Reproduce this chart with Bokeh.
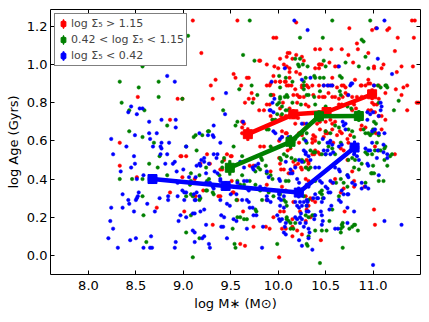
from bokeh.plotting import figure
from bokeh.models import (Range1d, FixedTicker, NumeralTickFormatter, LinearAxis,
                          Legend, LegendItem, ColumnDataSource)
from bokeh.embed import file_html
from bokeh.resources import INLINE

FONT = "DejaVu Sans"

# ---------------- data ----------------
x_ticks = [8.0, 8.5, 9.0, 9.5, 10.0, 10.5, 11.0]
y_ticks = [0.0, 0.2, 0.4, 0.6, 0.8, 1.0, 1.2]

labels = ["log \u03a3\u2085 > 1.15", "0.42 < log \u03a3\u2085 < 1.15", "log \u03a3\u2085 < 0.42"]

# binned means
red_bin_x = [9.68, 10.16, 10.51, 10.99]
red_bin_y = [0.635, 0.739, 0.751, 0.844]
red_bin_yerr = [0.035, 0.025, 0.025, 0.03]
red_bin_xerr = [0.05, 0.05, 0.04, 0.05]

green_bin_x = [9.49, 10.13, 10.43, 10.85]
green_bin_y = [0.459, 0.595, 0.729, 0.730]
green_bin_yerr = [0.04, 0.035, 0.03, 0.03]
green_bin_xerr = [0.05, 0.05, 0.04, 0.05]

blue_bin_x = [8.675, 9.446, 10.217, 10.805]
blue_bin_y = [0.400, 0.364, 0.329, 0.565]
blue_bin_yerr = [0.025, 0.025, 0.03, 0.035]
blue_bin_xerr = [0.05, 0.05, 0.05, 0.05]

red_pts = [
    (8.52, 0.83), (8.94, 0.82), (8.86, 0.71), (8.33, 0.59), (8.97, 0.52), (8.33, 0.47), (8.51, 0.41),
    (8.86, 0.33), (8.72, 0.25), (8.99, 0.82),
    (9.10, 1.23), (9.57, 1.23), (10.19, 1.22), (9.95, 1.14), (9.98, 1.14), (9.19, 1.06), (10.10, 1.06),
    (10.12, 1.06), (10.02, 1.03), (10.09, 1.04), (10.19, 1.05), (10.15, 1.03), (10.27, 1.02), (9.80, 1.02),
    (9.81, 1.02), (9.88, 1.00), (9.96, 0.99), (10.00, 0.98), (10.06, 1.00), (10.09, 0.99), (10.12, 0.98),
    (10.12, 0.96), (10.19, 0.96), (10.23, 0.95), (9.53, 0.95), (9.55, 0.93), (9.67, 0.93), (9.69, 0.93),
    (9.34, 0.92), (9.95, 0.94), (10.12, 0.93), (10.02, 0.91), (10.07, 0.91), (10.14, 0.89), (9.61, 0.89),
    (9.29, 0.89), (9.88, 0.89), (9.91, 0.89), (10.09, 0.89), (10.18, 0.87), (9.72, 0.85), (10.20, 0.84),
    (10.22, 0.83), (9.31, 0.82), (9.69, 0.82), (9.74, 0.82), (9.65, 0.80), (10.05, 0.80), (10.20, 0.80),
    (10.02, 0.77), (10.12, 0.77), (9.80, 0.76), (9.85, 0.76), (9.92, 0.73), (9.94, 0.71), (9.62, 0.70),
    (10.21, 0.72), (10.18, 0.69),
    (11.41, 1.23), (11.44, 1.23), (10.75, 1.19), (10.99, 1.18), (11.03, 1.19), (11.15, 1.18), (11.17, 1.19),
    (11.26, 1.14), (11.43, 1.14), (10.83, 1.11), (10.39, 1.08), (10.44, 1.08), (10.56, 1.08), (10.67, 1.08),
    (10.84, 1.08), (10.95, 1.06), (11.23, 1.07), (10.74, 1.05), (10.25, 1.04), (10.43, 1.00), (10.44, 1.00),
    (10.46, 1.00), (10.54, 1.01), (10.60, 0.99), (10.63, 0.99), (10.79, 1.01), (11.01, 0.99), (11.01, 0.98),
    (11.09, 0.98), (11.11, 1.00), (11.30, 0.99), (11.25, 0.96), (11.42, 0.99), (10.39, 0.98), (10.43, 0.98),
    (10.57, 0.93), (10.81, 0.92), (10.87, 0.89), (10.95, 0.92), (10.97, 0.90), (11.24, 0.87), (11.32, 0.88),
    (11.36, 0.89), (10.25, 0.88), (10.30, 0.89), (10.32, 0.88), (10.62, 0.88), (10.69, 0.89), (10.71, 0.85),
    (10.73, 0.84), (10.37, 0.84), (10.53, 0.85), (11.13, 0.85), (11.30, 0.84), (11.46, 0.80), (11.48, 0.80),
    (11.36, 0.76), (11.04, 0.79), (11.01, 0.79), (10.99, 0.80), (11.09, 0.73), (10.78, 0.80), (10.80, 0.79),
    (10.87, 0.66), (10.44, 0.66), (10.65, 0.65), (10.27, 0.69), (10.60, 0.70),
    (10.37, 0.63), (10.39, 0.62), (10.50, 0.64), (10.52, 0.64), (10.62, 0.63), (10.67, 0.64), (10.76, 0.63),
    (11.03, 0.64), (10.36, 0.59), (10.58, 0.59), (10.73, 0.61), (10.74, 0.59), (11.02, 0.57), (11.23, 0.53),
    (10.36, 0.53), (10.38, 0.53), (10.66, 0.56), (10.69, 0.55), (10.73, 0.50), (10.78, 0.44), (10.80, 0.39),
    (10.57, 0.38), (10.91, 0.36), (10.80, 0.36), (10.66, 0.33), (10.69, 0.35), (10.29, 0.31), (10.70, 0.23),
    (11.01, 0.24), (10.34, 0.20), (11.02, 0.16), (10.25, 0.11), (10.45, 0.08), (10.29, 0.18),
    (9.62, 0.64), (9.81, 0.57), (9.85, 0.57), (10.04, 0.62), (10.09, 0.64), (10.22, 0.59), (9.94, 0.56),
    (8.98, 0.52), (9.03, 0.52), (9.25, 0.53), (9.51, 0.52), (10.01, 0.51), (10.02, 0.48), (10.16, 0.49),
    (10.21, 0.48), (10.18, 0.47), (10.32, 0.48), (10.30, 0.46), (9.28, 0.48), (9.39, 0.45), (9.41, 0.45),
    (9.92, 0.44), (10.11, 0.43), (10.15, 0.44), (8.99, 0.41), (9.37, 0.31), (9.57, 0.29), (9.88, 0.29),
    (10.02, 0.23), (10.06, 0.23), (10.23, 0.23), (9.01, 0.23), (9.63, 0.23), (9.95, 0.20), (10.04, 0.14),
    (10.08, 0.14), (10.15, 0.19), (10.15, 0.15), (10.20, 0.13), (10.32, 0.26), (10.30, 0.24), (10.15, 0.10),
    (9.31, 0.16), (9.60, 0.06), (9.65, 0.05), (10.01, -0.01), (9.87, 0.15), (9.91, 0.14), (9.74, 0.15),
    (9.62, 0.67), (9.64, 0.69), (9.18, 0.48), (9.46, 0.53), (9.50, 0.52), (9.43, 0.50), (9.70, 0.47),
    (9.74, 0.47), (9.12, 0.40), (9.21, 0.34), (9.51, 0.39), (9.52, 0.33), (9.13, 0.31), (9.88, 0.37),
    (9.39, 0.31), (9.53, 0.33),
    (9.92, 0.90), (9.97, 0.91), (10.02, 0.91), (10.08, 0.91), (10.11, 0.89), (10.25, 0.89), (10.30, 0.89),
    (10.36, 0.89), (10.43, 0.89), (10.48, 0.89), (10.53, 0.89), (10.57, 0.89), (10.67, 0.89), (10.71, 0.88),
    (10.88, 0.89), (10.92, 0.89), (10.95, 0.90), (11.01, 0.89), (11.06, 0.89), (9.93, 0.84), (9.95, 0.84),
    (10.16, 0.84), (10.23, 0.83), (10.27, 0.83), (10.43, 0.83), (10.47, 0.83), (10.49, 0.83), (10.57, 0.83),
    (10.60, 0.83), (10.64, 0.82), (10.68, 0.83), (10.78, 0.83), (10.83, 0.83), (10.88, 0.83), (11.06, 0.82),
    (9.88, 0.79), (9.91, 0.79), (10.29, 0.79), (10.32, 0.78), (10.64, 0.79), (10.67, 0.79), (10.78, 0.76),
    (10.82, 0.77), (10.95, 0.76), (10.98, 0.76), (11.02, 0.75), (11.06, 0.73), (11.13, 0.71), (10.37, 0.70),
    (10.41, 0.69), (10.44, 0.70), (10.50, 0.70), (10.55, 0.71), (10.57, 0.69), (10.57, 0.66), (10.88, 0.68),
    (10.92, 0.67), (11.09, 0.66), (10.03, 0.73), (10.08, 0.73), (10.04, 0.65), (10.08, 0.64), (10.22, 0.64),
    (10.25, 0.63), (10.36, 0.61), (10.39, 0.60), (10.50, 0.65), (10.48, 0.62), (10.39, 0.55), (10.42, 0.54),
    (10.44, 0.53), (10.10, 0.55), (10.13, 0.56), (10.01, 0.60), (10.30, 0.50), (10.32, 0.49), (10.24, 0.46),
    (10.25, 0.45), (10.03, 0.45), (10.06, 0.45), (10.29, 0.40), (10.32, 0.39), (10.60, 0.40), (10.04, 0.36),
    (10.08, 0.34), (10.34, 0.30), (10.36, 0.29), (10.16, 0.28), (10.39, 0.28),
]

green_pts = [
    (8.33, 0.91), (8.53, 0.88), (8.74, 0.91), (8.74, 0.83), (8.35, 0.80), (8.43, 0.76), (8.59, 0.76),
    (8.83, 0.68), (8.43, 0.65), (8.57, 0.99), (8.57, 0.62), (8.69, 0.59), (8.75, 0.52), (8.64, 0.48),
    (8.73, 0.46), (8.83, 0.42), (8.33, 0.40), (8.46, 0.40), (8.57, 0.40), (8.57, 0.31), (8.58, 0.21),
    (8.61, 0.07),
    (9.70, 1.23), (9.05, 1.15), (10.23, 1.14), (9.63, 1.05), (10.18, 1.03), (10.23, 1.03), (9.75, 1.02),
    (10.21, 1.00), (10.22, 0.99), (10.31, 0.99), (10.26, 1.00), (10.01, 0.94), (10.08, 0.93), (10.15, 0.91),
    (10.27, 0.91), (10.27, 0.89), (10.27, 0.87), (9.72, 0.89), (10.02, 0.88), (9.59, 0.87), (9.78, 0.84),
    (9.92, 0.84), (10.09, 0.84), (8.99, 0.82), (10.02, 0.82), (9.73, 0.80), (10.15, 0.80), (10.24, 0.79),
    (9.42, 0.76), (9.99, 0.74), (10.04, 0.74), (9.57, 0.70), (9.55, 0.68), (9.26, 0.65),
    (10.57, 1.23), (10.97, 1.23), (10.47, 1.14), (10.88, 1.13), (10.90, 1.12), (10.92, 1.04), (10.48, 1.02),
    (10.50, 0.99), (10.71, 1.01), (10.85, 0.99), (10.95, 0.98), (10.29, 0.93), (10.38, 0.94), (10.39, 0.93),
    (10.44, 0.93), (10.48, 0.93), (10.65, 0.94), (10.67, 0.93), (11.05, 0.89), (11.08, 0.88), (11.14, 0.89),
    (11.15, 0.88), (10.65, 0.86), (10.44, 0.86), (10.30, 0.84), (11.27, 0.81), (11.22, 0.76), (11.06, 0.80),
    (11.01, 0.70), (11.03, 0.69), (10.90, 0.66), (11.00, 0.66), (11.01, 0.65), (10.66, 0.84), (10.50, 0.65),
    (10.55, 0.64),
    (10.25, 0.64), (10.30, 0.64), (10.80, 0.62), (10.95, 0.64), (10.99, 0.64), (11.06, 0.63), (10.43, 0.59),
    (10.66, 0.59), (11.04, 0.59), (11.13, 0.57), (11.12, 0.56), (11.08, 0.55), (11.18, 0.52), (11.20, 0.53),
    (10.34, 0.55), (10.37, 0.54), (10.39, 0.54), (10.25, 0.50), (10.27, 0.49), (10.46, 0.53), (10.50, 0.53),
    (10.72, 0.53), (10.74, 0.50), (10.78, 0.51), (10.81, 0.50), (10.88, 0.48), (11.00, 0.47), (10.99, 0.43),
    (10.73, 0.42), (10.66, 0.40), (10.61, 0.38), (10.64, 0.31), (10.44, 0.33), (10.46, 0.32), (10.47, 0.30),
    (10.27, 0.31), (10.57, 0.24), (10.36, 0.21), (10.38, 0.21), (10.54, 0.18), (10.68, 0.17), (10.67, 0.16),
    (10.68, 0.15), (10.78, 0.15), (10.80, 0.16), (10.81, 0.16), (10.39, 0.13), (10.46, 0.13), (10.51, 0.13),
    (10.66, 0.14), (10.84, 0.13), (10.75, 0.14), (10.66, 0.12), (10.31, 0.05), (10.68, 0.04), (10.44, -0.04),
    (9.11, 0.62), (9.13, 0.63), (9.20, 0.63), (9.53, 0.57), (10.18, 0.61), (9.92, 0.57), (9.14, 0.55),
    (9.43, 0.51), (9.82, 0.51), (9.83, 0.50), (9.24, 0.46), (9.79, 0.46), (9.62, 0.42), (9.25, 0.39),
    (9.27, 0.40), (9.38, 0.42), (9.70, 0.39), (10.01, 0.33), (10.02, 0.32), (9.24, 0.34), (9.03, 0.31),
    (9.17, 0.29), (9.18, 0.30), (9.56, 0.29), (9.83, 0.29), (10.06, 0.29), (10.08, 0.28), (10.09, 0.26),
    (10.30, 0.26), (10.32, 0.29), (9.08, 0.21), (9.57, 0.20), (9.60, 0.20), (9.64, 0.19), (9.67, 0.19),
    (9.76, 0.24), (9.77, 0.23), (10.09, 0.20), (10.09, 0.19), (10.11, 0.18), (10.13, 0.17), (10.18, 0.17),
    (10.29, 0.21), (10.32, 0.20), (10.16, 0.14), (10.13, 0.14), (10.32, 0.10), (10.30, 0.06), (9.52, 0.14),
    (9.03, 0.12), (9.17, 0.09), (9.54, 0.06), (9.55, 0.04), (9.99, 0.06), (9.10, -0.01),
    (9.27, 0.65), (9.03, 0.57), (9.08, 0.43), (9.17, 0.42), (9.41, 0.49), (9.41, 0.46), (9.62, 0.52),
    (9.76, 0.44), (9.81, 0.45), (9.87, 0.47), (9.08, 0.39), (9.07, 0.37), (9.57, 0.39), (9.60, 0.37),
    (9.64, 0.37), (9.76, 0.37), (9.81, 0.34), (9.08, 0.32), (9.10, 0.31), (9.25, 0.34), (9.31, 0.33),
    (9.32, 0.32),
    (10.02, 0.83), (10.07, 0.83), (10.10, 0.83), (10.32, 0.84), (10.38, 0.83), (11.13, 0.89), (9.99, 0.79),
    (10.01, 0.80), (10.04, 0.78), (10.08, 0.76), (10.11, 0.76), (10.39, 0.79), (10.50, 0.78), (10.73, 0.78),
    (10.77, 0.77), (10.60, 0.68), (10.64, 0.67), (10.74, 0.66), (10.78, 0.65), (10.92, 0.64), (10.97, 0.63),
    (9.94, 0.71), (9.97, 0.71), (9.88, 0.66), (9.90, 0.66), (10.27, 0.61), (10.30, 0.59), (10.53, 0.57),
    (10.57, 0.56), (10.60, 0.53), (10.92, 0.54), (10.94, 0.53), (10.99, 0.53), (11.02, 0.55), (11.06, 0.55),
    (11.12, 0.50), (11.15, 0.47), (10.80, 0.46), (10.85, 0.45), (10.98, 0.43), (11.01, 0.43), (11.06, 0.39),
    (11.11, 0.39), (10.06, 0.53), (10.09, 0.52), (10.02, 0.51), (10.03, 0.50), (10.14, 0.51), (10.18, 0.50),
    (10.29, 0.46), (10.34, 0.46), (10.32, 0.45), (9.88, 0.43), (9.92, 0.42), (9.94, 0.40), (10.08, 0.39),
    (10.11, 0.39), (10.39, 0.39), (10.69, 0.38), (10.73, 0.36), (10.92, 0.38), (9.90, 0.33), (9.95, 0.31),
    (10.46, 0.34),
]

blue_pts = [
    (8.83, 0.94), (8.91, 0.91), (8.45, 0.78), (8.54, 0.77), (8.51, 0.74), (8.42, 0.75), (8.64, 0.70),
    (8.77, 0.71), (8.92, 0.71), (8.64, 0.64), (8.72, 0.64), (8.49, 0.63), (8.24, 0.61), (8.65, 0.61),
    (8.77, 0.59), (8.85, 0.59), (8.40, 0.57), (8.68, 0.57), (8.76, 0.57), (8.77, 0.56), (8.26, 0.53),
    (8.48, 0.52), (8.76, 0.53), (8.83, 0.53), (8.91, 0.49), (8.89, 0.48), (8.81, 0.48), (8.49, 0.48),
    (8.45, 0.46), (8.34, 0.44), (8.93, 0.44), (8.58, 0.42), (8.51, 0.40), (8.36, 0.32), (8.53, 0.33),
    (8.52, 0.31), (8.51, 0.30), (8.42, 0.29), (8.50, 0.29), (8.75, 0.30), (8.84, 0.31), (8.84, 0.29),
    (8.94, 0.31), (8.43, 0.27), (8.62, 0.27), (8.24, 0.25), (8.36, 0.25), (8.48, 0.23), (8.70, 0.23),
    (8.97, 0.21), (8.23, 0.18), (8.95, 0.18), (8.26, 0.14), (8.21, 0.09), (8.44, 0.08), (8.50, 0.09),
    (8.66, 0.10), (8.92, 0.07), (8.31, 0.04), (8.58, 0.04), (8.65, 0.04), (8.67, 0.04), (8.91, 0.04),
    (8.57, 0.77), (8.92, 0.67),
    (10.17, 1.23), (10.31, 1.18), (10.07, 0.98), (9.93, 0.91), (10.25, 0.92), (9.45, 0.85), (9.96, 0.82),
    (9.94, 0.80), (9.91, 0.76), (9.44, 0.74), (9.63, 0.70), (9.32, 0.68), (9.17, 0.64),
    (11.12, 1.23), (11.04, 1.19), (10.64, 0.99), (11.05, 1.03), (11.20, 0.95), (10.34, 0.93), (10.77, 0.90),
    (11.01, 0.89), (10.48, 0.89), (10.52, 0.89), (10.55, 0.89), (10.57, 0.89), (11.08, 0.76), (11.06, 0.73),
    (10.94, 0.75), (10.97, 0.74), (11.00, 0.75), (10.94, 0.71), (10.68, 0.70), (10.71, 0.69), (11.12, 0.64),
    (10.29, 0.60), (10.47, 0.61), (10.54, 0.59), (10.57, 0.58), (10.99, 0.59), (11.11, 0.58), (10.92, 0.56),
    (10.95, 0.55), (10.97, 0.55), (11.05, 0.55), (11.15, 0.51), (10.27, 0.55), (10.29, 0.54), (10.34, 0.50),
    (10.52, 0.55), (10.55, 0.53), (10.58, 0.54), (10.94, 0.48), (10.65, 0.44), (10.64, 0.45),
    (10.60, 0.46), (10.88, 0.38), (10.50, 0.36), (10.55, 0.33), (10.73, 0.32), (10.74, 0.32), (10.37, 0.30),
    (10.41, 0.30), (10.46, 0.28), (10.27, 0.28), (10.56, 0.26), (10.54, 0.24), (10.73, 0.25), (10.80, 0.23),
    (10.23, 0.28), (10.25, 0.26), (10.24, 0.22), (10.25, 0.19), (10.23, 0.17), (10.30, 0.26), (10.32, 0.23),
    (10.39, 0.21), (10.38, 0.19), (10.45, 0.23), (10.46, 0.21), (10.47, 0.18), (10.46, 0.16), (10.73, 0.17),
    (11.12, 0.18), (11.30, 0.16), (10.60, 0.14), (10.63, 0.14), (10.32, 0.09), (10.25, 0.05), (10.36, 0.03),
    (11.00, -0.05),
    (9.26, 0.63), (9.31, 0.63), (9.32, 0.62), (9.39, 0.59), (10.02, 0.61), (10.04, 0.62), (9.03, 0.57),
    (9.32, 0.53), (9.36, 0.53), (9.22, 0.51), (9.35, 0.51), (10.08, 0.49), (10.13, 0.45), (10.18, 0.46),
    (9.19, 0.50), (9.17, 0.48), (9.18, 0.47), (9.14, 0.47), (9.27, 0.48), (9.00, 0.45), (9.73, 0.46),
    (9.74, 0.45), (9.79, 0.48), (9.76, 0.47), (9.88, 0.44), (9.90, 0.41), (9.06, 0.41), (9.13, 0.41),
    (9.67, 0.39), (9.57, 0.38), (9.58, 0.36), (9.31, 0.36), (9.32, 0.35), (9.81, 0.36), (9.86, 0.35),
    (9.01, 0.33), (9.03, 0.33), (9.11, 0.32), (9.14, 0.33), (9.17, 0.31), (9.12, 0.29), (9.13, 0.29),
    (9.39, 0.29), (9.46, 0.27), (9.49, 0.26), (9.62, 0.29), (9.67, 0.29), (9.69, 0.28), (9.70, 0.25),
    (9.73, 0.25), (9.88, 0.31), (9.89, 0.29), (10.01, 0.30), (10.03, 0.29), (10.02, 0.26), (10.06, 0.25),
    (10.18, 0.28), (10.20, 0.26), (10.22, 0.25), (10.30, 0.23), (9.22, 0.24), (9.18, 0.23), (9.10, 0.22),
    (9.12, 0.22), (9.03, 0.20), (9.40, 0.21), (9.43, 0.20), (9.53, 0.19), (9.56, 0.18), (9.74, 0.21),
    (9.77, 0.21), (9.99, 0.21), (10.01, 0.19), (10.02, 0.18), (10.04, 0.19), (10.08, 0.17), (10.07, 0.15),
    (10.18, 0.20), (10.20, 0.19), (10.23, 0.20), (10.29, 0.17), (10.27, 0.15), (10.32, 0.14), (10.33, 0.12),
    (10.06, 0.12), (10.08, 0.11), (10.22, 0.08), (9.24, 0.16), (9.40, 0.15), (9.42, 0.15), (9.10, 0.13),
    (9.12, 0.12), (9.20, 0.09), (9.22, 0.10), (9.12, 0.07), (9.27, 0.06), (9.28, 0.04), (9.46, 0.09),
    (9.83, 0.04), (9.84, 0.15), (9.67, 0.14),
    (9.22, 0.49), (9.24, 0.43), (9.33, 0.44), (9.36, 0.43), (9.60, 0.49), (9.64, 0.46), (9.24, 0.38),
    (9.28, 0.38), (8.94, 0.38), (9.39, 0.40), (9.39, 0.39), (9.64, 0.39), (8.99, 0.34), (9.67, 0.35),
    (9.69, 0.34), (9.01, 0.29), (9.50, 0.32), (9.56, 0.32),
    (10.76, 0.89), (10.78, 0.90), (10.74, 0.84), (11.08, 0.80), (11.09, 0.78), (9.92, 0.76), (9.95, 0.75),
    (10.25, 0.69), (10.30, 0.69), (10.69, 0.68), (10.71, 0.66), (10.99, 0.65), (11.02, 0.66), (11.06, 0.64),
    (9.95, 0.65), (9.97, 0.64), (10.11, 0.62), (10.15, 0.61), (10.52, 0.59), (10.55, 0.60), (10.64, 0.57),
    (10.67, 0.58), (10.48, 0.55), (10.50, 0.53), (10.80, 0.53), (10.83, 0.52), (10.85, 0.50), (11.11, 0.54),
    (11.15, 0.53), (11.04, 0.51), (10.95, 0.47), (10.73, 0.42), (10.74, 0.41), (11.06, 0.42),
    (10.29, 0.53), (10.32, 0.52), (10.22, 0.50), (10.25, 0.49), (10.39, 0.46), (10.43, 0.46), (10.13, 0.43),
    (10.15, 0.43), (10.01, 0.40), (10.02, 0.39), (10.20, 0.40), (10.22, 0.38), (10.30, 0.37), (10.32, 0.36),
    (10.44, 0.39), (10.46, 0.38), (10.55, 0.39), (10.58, 0.38), (10.78, 0.38), (10.81, 0.37), (10.88, 0.35),
    (10.01, 0.32), (10.06, 0.31), (10.39, 0.32), (10.42, 0.30), (10.48, 0.30), (10.52, 0.35), (10.53, 0.33),
    (10.67, 0.34), (10.69, 0.32), (9.88, 0.29), (9.92, 0.28), (10.30, 0.29), (10.31, 0.28),
    (10.64, 0.29), (10.66, 0.28), (10.92, 0.36), (10.95, 0.35),
]

red_x = [p[0] for p in red_pts]
red_y = [p[1] for p in red_pts]
green_x = [p[0] for p in green_pts]
green_y = [p[1] for p in green_pts]
blue_x = [p[0] for p in blue_pts]
blue_y = [p[1] for p in blue_pts]

RED, GREEN, BLUE = "#ff0000", "#008000", "#0000ff"

# ---------------- figure ----------------
p = figure(frame_width=370, frame_height=265,
           x_range=Range1d(7.6, 11.5), y_range=Range1d(-0.1, 1.288),
           output_backend="svg", toolbar_location=None,
           min_border_left=50, min_border_right=4, min_border_top=9, min_border_bottom=10)
p.grid.visible = False
p.outline_line_color = "black"
p.outline_line_width = 1
p.background_fill_color = "white"
p.border_fill_color = "white"

xa = p.xaxis[0]
ya = p.yaxis[0]
top = LinearAxis()
right = LinearAxis()
p.add_layout(top, "above")
p.add_layout(right, "right")
for ax in [xa, top]:
    ax.ticker = FixedTicker(ticks=x_ticks)
for ax in [ya, right]:
    ax.ticker = FixedTicker(ticks=y_ticks)
for ax, show in [(xa, True), (ya, True), (top, False), (right, False)]:
    ax.axis_line_color = None
    ax.major_tick_in = 4
    ax.major_tick_out = 0
    ax.minor_tick_in = 0
    ax.minor_tick_out = 0
    ax.major_tick_line_color = "black"
    ax.formatter = NumeralTickFormatter(format="0.0")
    ax.major_label_text_font = FONT
    ax.major_label_text_font_size = "13px" if show else "1px"
    ax.major_label_text_color = "black" if show else None
    ax.major_label_standoff = 4 if show else 0

xa.major_label_standoff = 6
ya.major_label_standoff = 3

xa.axis_label = "log M\u2217 (M\u2299)"
ya.axis_label = "log Age (Gyrs)"
for ax in (xa, ya):
    ax.axis_label_text_font = FONT
    ax.axis_label_text_font_size = "13px"
    ax.axis_label_text_font_style = "normal"
    ax.axis_label_text_color = "black"
    ax.axis_label_standoff = 3

# scatter points
p.scatter(red_x, red_y, size=3.5, color=RED, line_alpha=0.5)
p.scatter(green_x, green_y, size=3.5, color=GREEN, line_alpha=0.5)
p.scatter(blue_x, blue_y, size=3.5, color=BLUE, line_alpha=0.5)

# binned lines with error bars
items = []
for bx, by, bye, bxe, col, lab in [
        (red_bin_x, red_bin_y, red_bin_yerr, red_bin_xerr, RED, labels[0]),
        (green_bin_x, green_bin_y, green_bin_yerr, green_bin_xerr, GREEN, labels[1]),
        (blue_bin_x, blue_bin_y, blue_bin_yerr, blue_bin_xerr, BLUE, labels[2])]:
    src = ColumnDataSource(dict(
        x=bx, y=by, h=[2 * e for e in bye],
        ylo=[v - e for v, e in zip(by, bye)], yhi=[v + e for v, e in zip(by, bye)],
        xlo=[v - e for v, e in zip(bx, bxe)], xhi=[v + e for v, e in zip(bx, bxe)]))
    p.line("x", "y", source=src, line_color=col, line_width=4.5)
    p.segment(x0="x", y0="ylo", x1="x", y1="yhi", source=src, line_color=col, line_width=3)
    p.segment(x0="xlo", y0="y", x1="xhi", y1="y", source=src, line_color=col, line_width=3)
    bar = p.ellipse(x="x", y="y", width=3, height="h", width_units="screen",
                    source=src, fill_color=col, line_color=col, line_width=0.5)
    sq = p.scatter("x", "y", source=src, marker="square", size=9, color=col)
    items.append(LegendItem(label=lab, renderers=[bar, sq]))

legend = Legend(items=items, location="top_left",
                label_text_font=FONT, label_text_font_size="11px",
                glyph_width=12, glyph_height=15, label_height=14,
                label_standoff=2, spacing=1, padding=2, margin=4,
                border_line_color="black", border_line_width=1,
                background_fill_color="white", background_fill_alpha=1.0)
p.add_layout(legend)

open("out.html", "w").write(file_html(p, INLINE))
